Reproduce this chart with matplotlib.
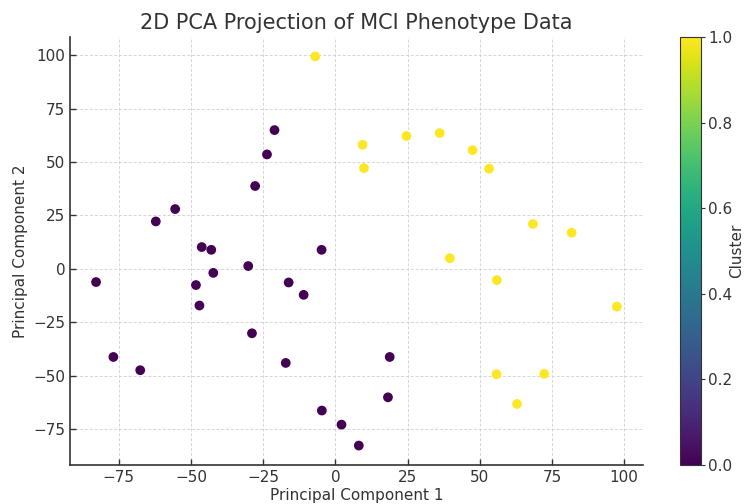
import matplotlib
matplotlib.use("Agg")
import matplotlib.pyplot as plt
import numpy as np

# Cluster 0 points
pc1_c0 = [-21.1, -23.7, -27.8, -55.5, -62.2, -46.3, -43.0, -4.8, -82.9, -30.2, -42.3, -48.3,
          -47.1, -16.2, -11.0, -28.9, -76.9, -67.6, -17.2, -4.7, 2.1, 8.1, 18.8, 18.2]
pc2_c0 = [65.0, 53.6, 38.8, 28.0, 22.2, 10.2, 8.9, 8.9, -6.2, 1.3, -1.9, -7.6,
          -17.2, -6.4, -12.2, -30.2, -41.3, -47.5, -44.1, -66.4, -73.0, -82.8, -41.3, -60.2]
# Cluster 1 points
pc1_c1 = [-7.0, 9.4, 9.9, 24.6, 36.1, 47.5, 53.2, 68.4, 81.8, 39.6, 55.9, 97.5, 55.8, 72.3, 62.9]
pc2_c1 = [99.5, 58.1, 47.2, 62.2, 63.6, 55.6, 46.9, 21.0, 16.9, 5.0, -5.3, -17.7, -49.4, -49.2, -63.3]

x = np.array(pc1_c0 + pc1_c1)
y = np.array(pc2_c0 + pc2_c1)
labels = np.array([0] * len(pc1_c0) + [1] * len(pc1_c1))

txt = "#333333"
plt.rcParams.update({
    "font.family": "DejaVu Sans",
    "text.color": txt,
    "axes.labelcolor": txt,
    "xtick.color": txt,
    "ytick.color": txt,
})

fig = plt.figure(figsize=(7.48, 5.04), dpi=100)
W, H = 748, 504
ax = fig.add_axes([70 / W, (H - 465) / H, (643 - 70) / W, (465 - 37) / H])
cax = fig.add_axes([680 / W, (H - 465) / H, 21 / W, (465 - 37) / H])

sc = ax.scatter(x, y, c=labels, cmap="viridis", s=36, zorder=3)

ax.set_title("2D PCA Projection of MCI Phenotype Data", fontsize=15, color=txt, pad=6)
ax.set_xlabel("Principal Component 1", fontsize=11, labelpad=2)
ax.set_ylabel("Principal Component 2", fontsize=11, labelpad=4)
ax.set_xticks([-75, -50, -25, 0, 25, 50, 75, 100])
ax.set_yticks([-75, -50, -25, 0, 25, 50, 75, 100])
ax.tick_params(direction="in", labelsize=11, length=4, width=1, colors=txt)
ax.grid(True, linestyle=(0, (3, 2)), color="#d5d5d5", linewidth=0.7, zorder=0)
for s in ["top", "right"]:
    ax.spines[s].set_visible(False)
for s in ["left", "bottom"]:
    ax.spines[s].set_color(txt)
    ax.spines[s].set_linewidth(1.2)

cb = fig.colorbar(sc, cax=cax)
cb.set_label("Cluster", fontsize=11, labelpad=-2)
cb.ax.tick_params(labelsize=11, length=3, pad=2, colors=txt)
cb.outline.set_edgecolor(txt)

fig.savefig("out.png", dpi=100)
